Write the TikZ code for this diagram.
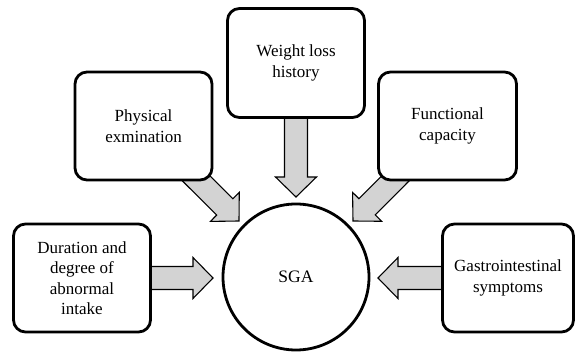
\documentclass[tikz,border=0pt]{standalone}
\usepackage{fontspec}
\setmainfont{Liberation Serif}
\usetikzlibrary{calc}
\definecolor{arrgray}{HTML}{D3D3D3}
\tikzset{
  box/.style={draw=black, line width=2.8pt, rounded corners=12pt, fill=white,
    align=center, inner sep=0pt, font=\fontsize{17}{20.5}\selectfont},
  hub/.style={draw=black, line width=2.8pt, circle, fill=white, inner sep=0pt,
    minimum size=146pt, font=\fontsize{17.5}{20.5}\selectfont},
  fat/.style={draw=black, line width=1.1pt, fill=arrgray, line join=miter},
}
% fat arrow from start node (#1) to tip coordinate (#2)
\newcommand\fatarrow[2]{%
  \draw[fat]
    ($(#1)!11.5pt!90:(#2)$) --
    ($($(#2)!20pt!(#1)$)!11.5pt!90:(#2)$) --
    ($($(#2)!20pt!(#1)$)!20.5pt!90:(#2)$) --
    (#2) --
    ($($(#2)!20pt!(#1)$)!20.5pt!-90:(#2)$) --
    ($($(#2)!20pt!(#1)$)!11.5pt!-90:(#2)$) --
    ($(#1)!11.5pt!-90:(#2)$) -- cycle;}
\begin{document}
\begin{tikzpicture}[x=1pt,y=-1pt]
\useasboundingbox (0,0) rectangle (576,352);
% positions
\coordinate (cphys) at (143.5,126);
\coordinate (cweight) at (296,63);
\coordinate (cfunc) at (447.5,126);
\coordinate (cdur) at (82,278);
\coordinate (cgas) at (508,278);
% arrow tips
\coordinate (tdur) at (213,278);
\coordinate (tgas) at (378,278);
\coordinate (tweight) at (296,197);
\coordinate (tphys) at (239,221);
\coordinate (tfunc) at (353,221);
% arrows (under the boxes)
\fatarrow{cdur}{tdur}
\fatarrow{cgas}{tgas}
\fatarrow{cweight}{tweight}
\fatarrow{cphys}{tphys}
\fatarrow{cfunc}{tfunc}
% boxes
\node[box, minimum width=137pt, minimum height=108pt] (phys) at (cphys) {Physical\\exmination};
\node[box, minimum width=137pt, minimum height=109pt] (weight) at (cweight) {Weight loss\\history};
\node[box, minimum width=138pt, minimum height=108pt] (func) at (cfunc) {Functional\\capacity};
\node[box, minimum width=137pt, minimum height=108pt] (dur) at (cdur) {Duration and\\degree of\\abnormal\\intake};
\node[box, minimum width=131pt, minimum height=108pt] (gas) at (cgas) {Gastrointestinal\\symptoms};
\node[hub] (sga) at (296,277) {SGA};
\end{tikzpicture}
\end{document}
